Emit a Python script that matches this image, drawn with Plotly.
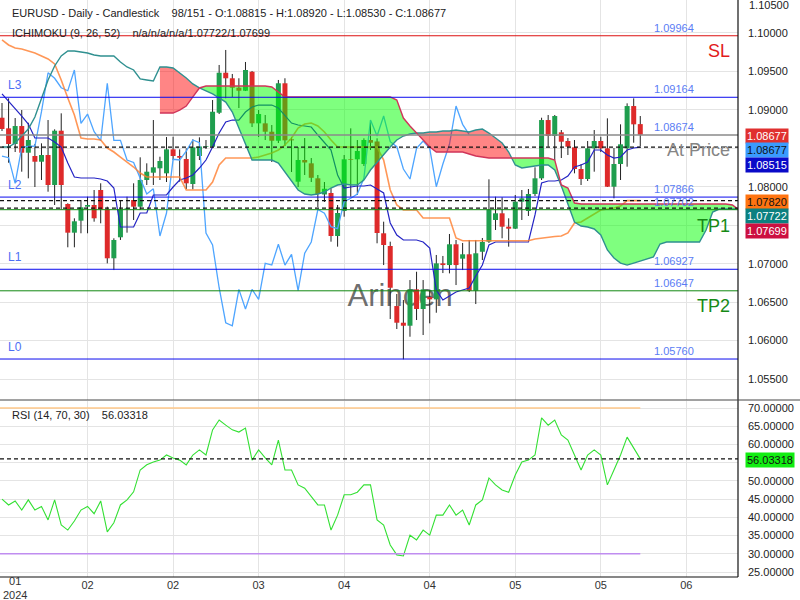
import plotly.graph_objects as go

# ---------------- data ----------------
x_label_bars = [13, 26, 39, 52, 65, 78, 91, 104]
x_labels = ["02", "02", "03", "04", "04", "05", "05", "06"]

opens = [1.08898, 1.08760, 1.08556, 1.08790, 1.08443, 1.08400, 1.08326, 1.08413, 1.08023, 1.08729,
         1.07776, 1.07403, 1.07559, 1.07741, 1.07763, 1.07958, 1.07707, 1.07070, 1.07343, 1.07707,
         1.07828, 1.07741, 1.08088, 1.08183, 1.08240, 1.08175, 1.08487, 1.08400, 1.08361, 1.08036,
         1.08400, 1.08521, 1.08521, 1.08963, 1.09483, 1.09411, 1.09288, 1.09249, 1.09496, 1.08825,
         1.08825, 1.08716, 1.08599, 1.09346, 1.08617, 1.08066, 1.08348, 1.08305, 1.08110, 1.07900,
         1.07919, 1.07360, 1.07685, 1.08357, 1.08357, 1.08296, 1.08608, 1.08589, 1.07395, 1.07230,
         1.06449, 1.06232, 1.06193, 1.06666, 1.06410, 1.06566, 1.06536, 1.07004, 1.06982, 1.07252,
         1.07065, 1.07122, 1.06648, 1.07155, 1.07286, 1.07568, 1.07655, 1.07481, 1.07455, 1.07806,
         1.07685, 1.07906, 1.08110, 1.08868, 1.08660, 1.08708, 1.08595, 1.08513, 1.08231, 1.08101,
         1.08500, 1.08595, 1.08500, 1.08001, 1.08296, 1.08500, 1.09050, 1.08815]
highs = [1.09089, 1.09150, 1.08894, 1.08998, 1.08833, 1.08556, 1.08565, 1.08868, 1.08747, 1.08955,
         1.07785, 1.07590, 1.07828, 1.07871, 1.07958, 1.08045, 1.07741, 1.07330, 1.07828, 1.07871,
         1.08045, 1.08383, 1.08305, 1.08868, 1.08391, 1.08647, 1.08651, 1.08487, 1.08500, 1.08617,
         1.08643, 1.08608, 1.09128, 1.09584, 1.09779, 1.09467, 1.09411, 1.09623, 1.09506, 1.08998,
         1.08933, 1.08803, 1.09389, 1.09411, 1.08647, 1.08517, 1.08634, 1.08374, 1.08153, 1.08062,
         1.07980, 1.07763, 1.08413, 1.08760, 1.08608, 1.08630, 1.08868, 1.08630, 1.07546, 1.07286,
         1.06605, 1.06527, 1.06787, 1.06895, 1.06787, 1.06657, 1.07113, 1.07100, 1.07386, 1.07308,
         1.07269, 1.07308, 1.07308, 1.07334, 1.08097, 1.07871, 1.07863, 1.07590, 1.07893, 1.07958,
         1.07971, 1.08253, 1.08898, 1.08933, 1.08933, 1.08738, 1.08634, 1.08608, 1.08296, 1.08595,
         1.08738, 1.08651, 1.08890, 1.08504, 1.08812, 1.09085, 1.09150, 1.08920]
lows = [1.08725, 1.08313, 1.08452, 1.08196, 1.08110, 1.07997, 1.08088, 1.07936, 1.07763, 1.07707,
        1.07213, 1.07213, 1.07395, 1.07395, 1.07546, 1.07525, 1.07004, 1.06917, 1.07308, 1.07403,
        1.07568, 1.07698, 1.08023, 1.08023, 1.08088, 1.08062, 1.08348, 1.08066, 1.07971, 1.07967,
        1.08348, 1.08491, 1.08504, 1.08946, 1.09150, 1.09167, 1.09024, 1.09245, 1.08777, 1.08647,
        1.08608, 1.08322, 1.08569, 1.08530, 1.08192, 1.07997, 1.08153, 1.08062, 1.07737, 1.07802,
        1.07286, 1.07221, 1.07611, 1.07871, 1.07893, 1.08270, 1.08478, 1.07265, 1.06982, 1.06280,
        1.06150, 1.05756, 1.06050, 1.06267, 1.06072, 1.06224, 1.06362, 1.06878, 1.06874, 1.06722,
        1.06917, 1.06631, 1.06475, 1.07047, 1.07269, 1.07438, 1.07330, 1.07221, 1.07451, 1.07568,
        1.07620, 1.07880, 1.08088, 1.08521, 1.08348, 1.08374, 1.08413, 1.08175, 1.08023, 1.08075,
        1.08196, 1.08452, 1.07997, 1.07850, 1.08088, 1.08261, 1.08573, 1.08530]
closes = [1.08751, 1.08556, 1.08790, 1.08443, 1.08608, 1.08326, 1.08413, 1.08023, 1.08729, 1.08023,
          1.07403, 1.07551, 1.07733, 1.07763, 1.07590, 1.07707, 1.07070, 1.07308, 1.07707, 1.07720,
          1.07741, 1.08088, 1.08196, 1.08253, 1.08335, 1.08487, 1.08400, 1.08378, 1.08045, 1.08513,
          1.08524, 1.08530, 1.08976, 1.09483, 1.09411, 1.09288, 1.09249, 1.09519, 1.08825, 1.08946,
          1.08716, 1.08599, 1.09346, 1.08604, 1.08604, 1.08348, 1.08316, 1.08117, 1.07906, 1.07974,
          1.07360, 1.07659, 1.08357, 1.08348, 1.08465, 1.08608, 1.08573, 1.07399, 1.07243, 1.06687,
          1.06232, 1.06193, 1.06666, 1.06410, 1.06666, 1.06536, 1.07004, 1.06982, 1.07252, 1.06982,
          1.07122, 1.06648, 1.07135, 1.07282, 1.07704, 1.07655, 1.07481, 1.07455, 1.07806, 1.07850,
          1.07906, 1.08110, 1.08868, 1.08660, 1.08920, 1.08586, 1.08521, 1.08231, 1.08101, 1.08500,
          1.08595, 1.08500, 1.08001, 1.08296, 1.08552, 1.09050, 1.08812, 1.08677]

tenkan = [1.09207, 1.09115, 1.09024, 1.08920, 1.08816, 1.08634, 1.08634, 1.08634, 1.08582, 1.08517,
          1.08309, 1.08127, 1.08114, 1.08114, 1.08114, 1.08101, 1.08075, 1.07984, 1.07477, 1.07477,
          1.07477, 1.07659, 1.07659, 1.07893, 1.07893, 1.07893, 1.07997, 1.08088, 1.08114, 1.08153,
          1.08244, 1.08348, 1.08517, 1.08699, 1.08842, 1.08868, 1.08868, 1.08972, 1.09037, 1.09063,
          1.09063, 1.09063, 1.09024, 1.08933, 1.08829, 1.08803, 1.08790, 1.08777, 1.08673, 1.08582,
          1.08478, 1.08153, 1.07984, 1.07997, 1.08010, 1.08010, 1.08023, 1.07971, 1.07919, 1.07529,
          1.07373, 1.07308, 1.07308, 1.07308, 1.07282, 1.07203, 1.06657, 1.06527, 1.06579, 1.06631,
          1.06657, 1.06684, 1.06839, 1.06982, 1.07243, 1.07282, 1.07282, 1.07282, 1.07282, 1.07282,
          1.07282, 1.07633, 1.08049, 1.08075, 1.08075, 1.08088, 1.08140, 1.08257, 1.08283, 1.08322,
          1.08478, 1.08478, 1.08413, 1.08374, 1.08387, 1.08478, 1.08504, 1.08515]
kijun = [1.09909, 1.09844, 1.09805, 1.09792, 1.09766, 1.09740, 1.09701, 1.09662, 1.09597, 1.09389,
         1.09155, 1.08933, 1.08634, 1.08621, 1.08621, 1.08608, 1.08504, 1.08452, 1.08387, 1.08322,
         1.08257, 1.08179, 1.08127, 1.08127, 1.08127, 1.08127, 1.08127, 1.08127, 1.07958, 1.07958,
         1.07958, 1.07958, 1.08062, 1.08283, 1.08374, 1.08374, 1.08374, 1.08374, 1.08374, 1.08387,
         1.08413, 1.08439, 1.08478, 1.08543, 1.08634, 1.08764, 1.08816, 1.08829, 1.08790, 1.08712,
         1.08608, 1.08517, 1.08517, 1.08517, 1.08517, 1.08517, 1.08517, 1.08517, 1.08348, 1.07958,
         1.07763, 1.07698, 1.07698, 1.07698, 1.07594, 1.07594, 1.07594, 1.07594, 1.07594, 1.07334,
         1.07299, 1.07299, 1.07299, 1.07299, 1.07299, 1.07299, 1.07299, 1.07299, 1.07299, 1.07299,
         1.07299, 1.07321, 1.07334, 1.07347, 1.07354, 1.07360, 1.07399, 1.07529, 1.07542, 1.07594,
         1.07646, 1.07698, 1.07711, 1.07724, 1.07750, 1.07820, 1.07820, 1.07820]
span_a = [1.08517, 1.08517, 1.08569, 1.08660, 1.08751, 1.08907, 1.09155, 1.09389, 1.09571, 1.09701,
          1.09766, 1.09766, 1.09753, 1.09740, 1.09714, 1.09701, 1.09701, 1.09701, 1.09623, 1.09558,
          1.09519, 1.09402, 1.09389, 1.09376, 1.09558, 1.09558, 1.09545, 1.09480, 1.09415, 1.09337,
          1.09285, 1.09246, 1.09207, 1.09155, 1.09102, 1.08972, 1.08764, 1.08543, 1.08348, 1.08348,
          1.08348, 1.08348, 1.08309, 1.08192, 1.08062, 1.07958, 1.07906, 1.07893, 1.07906, 1.07932,
          1.07984, 1.08023, 1.08036, 1.08023, 1.08023, 1.08088, 1.08218, 1.08322, 1.08413, 1.08517,
          1.08608, 1.08660, 1.08686, 1.08699, 1.08699, 1.08712, 1.08712, 1.08725, 1.08725, 1.08738,
          1.08725, 1.08712, 1.08738, 1.08751, 1.08699, 1.08634, 1.08569, 1.08452, 1.08283, 1.08244,
          1.08257, 1.08270, 1.08283, 1.08283, 1.08218, 1.08010, 1.07763, 1.07542, 1.07490, 1.07477,
          1.07451, 1.07373, 1.07178, 1.07074, 1.07008, 1.06982, 1.07008, 1.07034, 1.07061, 1.07087,
          1.07256, 1.07282, 1.07282, 1.07282, 1.07282, 1.07282, 1.07282, 1.07438, 1.07672, 1.07711,
          1.07711, 1.07711, 1.07711]
span_b_first_bar = 24
span_b = [1.08959, 1.08959, 1.08959, 1.08998, 1.09050, 1.09168, 1.09285, 1.09311, 1.09311, 1.09311,
          1.09311, 1.09311, 1.09311, 1.09311, 1.09311, 1.09311, 1.09311, 1.09298, 1.09233, 1.09168,
          1.09168, 1.09168, 1.09168, 1.09168, 1.09168, 1.09168, 1.09168, 1.09168, 1.09168, 1.09168,
          1.09168, 1.09168, 1.09168, 1.09168, 1.09168, 1.09168, 1.09128, 1.08894, 1.08790, 1.08699,
          1.08608, 1.08517, 1.08452, 1.08452, 1.08452, 1.08452, 1.08452, 1.08426, 1.08400, 1.08387,
          1.08374, 1.08374, 1.08374, 1.08374, 1.08374, 1.08374, 1.08374, 1.08374, 1.08374, 1.08374,
          1.08348, 1.08023, 1.07984, 1.07789, 1.07776, 1.07776, 1.07776, 1.07776, 1.07776, 1.07776,
          1.07776, 1.07776, 1.07776, 1.07776, 1.07776, 1.07776, 1.07776, 1.07776, 1.07776, 1.07776,
          1.07776, 1.07776, 1.07776, 1.07776, 1.07776, 1.07776, 1.07776, 1.07763, 1.07698]
chikou_shift = 26

rsi = [45.0, 43.4, 44.5, 42.0, 44.8, 42.0, 43.0, 39.3, 44.8, 37.9,
       36.5, 39.0, 42.0, 43.0, 41.0, 44.5, 36.0, 38.5, 43.4, 44.8,
       47.0, 53.0, 54.4, 55.2, 55.7, 57.1, 56.3, 55.7, 54.4, 57.1,
       58.5, 57.1, 64.0, 66.7, 65.3, 64.0, 63.4, 64.5, 55.7, 58.5,
       56.3, 54.4, 61.2, 53.0, 53.0, 48.9, 48.0, 45.6, 43.4, 43.4,
       36.5, 40.6, 46.2, 46.2, 46.9, 48.9, 48.9, 39.3, 37.9, 32.4,
       29.7, 29.4, 35.1, 33.8, 36.5, 35.1, 40.6, 40.6, 43.4, 40.6,
       42.0, 37.9, 43.4, 44.8, 50.8, 48.9, 47.5, 46.9, 51.6, 55.2,
       55.7, 57.1, 67.3, 65.3, 66.7, 62.6, 61.2, 57.1, 53.0, 57.1,
       58.5, 57.1, 48.9, 53.0, 57.1, 62.0, 59.0, 56.03318]
rsi_upper, rsi_lower, rsi_last = 70, 30, 56.03318

level_sl = 1.09964
level_l3 = 1.09164
level_gray = 1.08674
level_at_price = 1.08515
level_l2 = 1.07866
level_tp1 = 1.07702
level_l1 = 1.06927
level_tp2 = 1.06647
level_l0 = 1.05760
dashed_levels = [1.08515, 1.07820, 1.07722]

price_ticks = [1.055, 1.06, 1.065, 1.07, 1.075, 1.08, 1.085, 1.09, 1.095, 1.10]
hidden_price_ticks = [1.075, 1.085]
rsi_ticks = [25, 30, 35, 40, 45, 50, 55, 60, 65, 70]
hidden_rsi_ticks = [55]

# ---------------- geometry ----------------
PLOT_W, PLOT_H = 738, 577
X_RANGE = [-0.304, 111.85]
Y_RANGE = [1.05227, 1.10429]
RSI_RANGE = [23.63, 71.92]
MAIN_DOM = [(PLOT_H - 400) / PLOT_H, 1]
RSI_DOM = [0, (PLOT_H - 401) / PLOT_H]


def px(xp):
    return xp / PLOT_W


def py(yp):
    return (PLOT_H - yp) / PLOT_H


FONT = "Liberation Sans, Arial, sans-serif"
NARROW = "Liberation Sans Narrow, Liberation Sans, Arial"
GREEN = "#1f9e4e"
RED = "#de2a2a"

n = len(closes)
bars = list(range(n))

fig = go.Figure()

# watermark (under candles)
fig.add_trace(go.Scatter(x=[60.5], y=[1.06553], mode="text", text=["Arincen"],
                         textfont=dict(size=31, color="rgba(85,85,85,0.85)", family=FONT),
                         hoverinfo="skip", xaxis="x", yaxis="y"))

# wicks
wx, wy = [], []
for i in bars:
    wx += [i, i, None]
    wy += [lows[i], highs[i], None]
fig.add_trace(go.Scatter(x=wx, y=wy, mode="lines", line=dict(color="#222222", width=1),
                         hoverinfo="skip", xaxis="x", yaxis="y"))

# bodies
for up in (True, False):
    bx, by = [], []
    for i in bars:
        if (closes[i] >= opens[i]) == up:
            bx += [i, i, None]
            by += [opens[i], closes[i], None]
    fig.add_trace(go.Scatter(x=bx, y=by, mode="lines",
                             line=dict(color=GREEN if up else RED, width=5),
                             hoverinfo="skip", xaxis="x", yaxis="y"))

# chikou, tenkan, kijun
fig.add_trace(go.Scatter(x=bars[:n - chikou_shift], y=closes[chikou_shift:], mode="lines",
                         line=dict(color="#4ea5ff", width=1.3), hoverinfo="skip", xaxis="x", yaxis="y"))
fig.add_trace(go.Scatter(x=bars, y=tenkan, mode="lines", line=dict(color="#2323c4", width=1.2),
                         hoverinfo="skip", xaxis="x", yaxis="y"))
fig.add_trace(go.Scatter(x=bars, y=kijun, mode="lines", line=dict(color="rgba(255,125,45,0.8)", width=1.6),
                         hoverinfo="skip", xaxis="x", yaxis="y"))

# cloud
a_bars = list(range(len(span_a)))
b_bars = list(range(span_b_first_bar, span_b_first_bar + len(span_b)))
polys = []
cur = []
for k, i in enumerate(b_bars):
    a, b = span_a[i], span_b[k]
    cur.append((i, a, b))
    d = b - a
    if d == 0 and len(cur) > 1:
        polys.append(cur)
        cur = [(i, a, b)]
    if k + 1 < len(b_bars):
        a2, b2 = span_a[i + 1], span_b[k + 1]
        d2 = b2 - a2
        if d * d2 < 0:
            t = d / (d - d2)
            xc = i + t
            yc = a + t * (a2 - a)
            cur.append((xc, yc, yc))
            polys.append(cur)
            cur = [(xc, yc, yc)]
if len(cur) > 1:
    polys.append(cur)
for poly in polys:
    s = sum(p[2] - p[1] for p in poly)
    col = "rgba(0,255,0,0.5)" if s > 0 else "rgba(255,0,0,0.48)"
    xs = [p[0] for p in poly]
    fig.add_trace(go.Scatter(x=xs + xs[::-1], y=[p[1] for p in poly] + [p[2] for p in poly][::-1],
                             mode="lines", fill="toself", fillcolor=col, line=dict(width=0),
                             hoverinfo="skip", xaxis="x", yaxis="y"))
fig.add_trace(go.Scatter(x=a_bars, y=span_a, mode="lines", line=dict(color="#2f9090", width=1.4),
                         hoverinfo="skip", xaxis="x", yaxis="y"))
fig.add_trace(go.Scatter(x=b_bars, y=span_b, mode="lines", line=dict(color="#d0355a", width=1.4),
                         hoverinfo="skip", xaxis="x", yaxis="y"))

# RSI
fig.add_trace(go.Scatter(x=bars, y=rsi, mode="lines", line=dict(color="#33e033", width=1.1),
                         hoverinfo="skip", xaxis="x2", yaxis="y2"))

shapes = []


def hline(y, color, width=1, dash="solid", yref="y", x0=0, x1=1, xref="paper"):
    shapes.append(dict(type="line", xref=xref, yref=yref, x0=x0, x1=x1, y0=y, y1=y,
                       line=dict(color=color, width=width, dash=dash), layer="above"))


hline(level_sl, "#dd1111")
hline(level_l3, "#0a0aee")
hline(level_gray, "#8a8a8a", 1.5)
hline(level_l2, "#0a0aee")
hline(level_tp1, "#118811")
hline(level_l1, "#0a0aee")
hline(level_tp2, "#118811")
hline(level_l0, "#0a0aee")
for lv in dashed_levels:
    hline(lv, "#111111", 1.1, "4px,3px")
hline(rsi_upper, "#ffc98a", 1.3, yref="y2", xref="x2", x0=X_RANGE[0], x1=n - 1)
hline(rsi_lower, "#c08df0", 1.5, yref="y2", xref="x2", x0=X_RANGE[0], x1=n - 1)
hline(rsi_last, "#111111", 1.1, "4px,3px", yref="y2")
# frame lines
shapes.append(dict(type="line", xref="paper", yref="paper", x0=1, x1=1, y0=0, y1=1,
                   line=dict(color="#111", width=1.2)))
shapes.append(dict(type="line", xref="paper", yref="paper", x0=0, x1=1, y0=0, y1=0,
                   line=dict(color="#111", width=1.2)))
shapes.append(dict(type="line", xref="paper", yref="paper", x0=0, x1=800 / PLOT_W, y0=py(400), y1=py(400),
                   line=dict(color="#444", width=1)))

ann = []


def text(x, y, s, size=11, color="#222", xanchor="left", yanchor="middle", family=FONT, **kw):
    d = dict(xref="paper", yref="paper", x=x, y=y, text=s, showarrow=False, xanchor=xanchor,
             yanchor=yanchor, font=dict(size=size, color=color, family=family))
    d.update(kw)
    ann.append(d)


sp = "\u00a0\u00a0\u00a0\u00a0"
text(px(10), py(13), "EURUSD - Daily - Candlestick" + sp + "98/151 - O:1.08815 - H:1.08920 - L:1.08530 - C:1.08677")
text(px(10), py(33), "ICHIMOKU (9, 26, 52)" + sp + "n/a/n/a/n/a/1.07722/1.07699")
text(px(10), py(415), "RSI (14, 70, 30)" + sp + "56.03318")

# left level names
for name, lv in (("L3", level_l3), ("L2", level_l2), ("L1", level_l1), ("L0", level_l0)):
    ann.append(dict(xref="paper", yref="y", x=px(6), y=lv, text=name, showarrow=False, xanchor="left",
                    yanchor="bottom", yshift=3, font=dict(size=12, color="#4d6ef5", family=FONT)))
# right level values
for lv in (level_sl, level_l3, level_gray, level_l2, level_tp1, level_l1, level_tp2, level_l0):
    ann.append(dict(xref="paper", yref="y", x=px(652), y=lv, text="%.5f" % lv, showarrow=False,
                    xanchor="left", yanchor="bottom", yshift=0,
                    font=dict(size=11, color="#5a7cf5", family=FONT)))
# big labels
for s, lv, col, shift in (("SL", level_sl, "#e21b1b", -15), ("At Price", level_at_price, "#858585", -3),
                          ("TP1", level_tp1, "#168a16", -16), ("TP2", level_tp2, "#168a16", -15)):
    ann.append(dict(xref="paper", yref="y", x=px(732), y=lv, text=s, showarrow=False, xanchor="right",
                    yanchor="middle", yshift=shift, font=dict(size=18, color=col, family=FONT)))

# right side value boxes
for yp, s, bg, fc in ((136, "1.08677", "#e0302f", "#ffffff"), (150, "1.08677", "#3a9bff", "#111111"),
                      (165, "1.08515", "#0a0ac8", "#ffffff"), (202, "1.07820", "#ff7410", "#111111"),
                      (216, "1.07722", "#0b8080", "#ffffff"), (231, "1.07699", "#cc1040", "#ffffff"),
                      (460, "56.03318", "#11ee11", "#111111")):
    text(px(745), py(yp), s, color=fc, bgcolor=bg, borderpad=1)
text(px(747), py(5), "1.10500")
text(px(15), py(588), "01<br>2024", xanchor="center", size=11, color="#333", family=NARROW)

fig.update_layout(
    width=800, height=600, margin=dict(l=0, r=62, t=0, b=23),
    paper_bgcolor="white", plot_bgcolor="white", showlegend=False, hovermode=False,
    font=dict(family=FONT, size=11, color="#222"),
    xaxis=dict(domain=[0, 1], range=X_RANGE, anchor="y", tickvals=x_label_bars, showticklabels=False,
               showgrid=True, gridcolor="#e4e4e4", zeroline=False, showline=False),
    xaxis2=dict(domain=[0, 1], range=X_RANGE, anchor="y2", tickvals=x_label_bars, ticktext=x_labels,
                showgrid=True, gridcolor="#e4e4e4", zeroline=False, showline=False, ticks="",
                tickfont=dict(size=11, color="#333", family=NARROW)),
    yaxis=dict(domain=MAIN_DOM, range=Y_RANGE, anchor="x", side="right", tickvals=price_ticks,
               ticktext=["" if t in hidden_price_ticks else "%.5f" % t for t in price_ticks],
               showgrid=True, gridcolor="#e4e4e4", zeroline=False, showline=False, ticks="",
               ticklabelstandoff=9, tickfont=dict(size=11, color="#222")),
    yaxis2=dict(domain=RSI_DOM, range=RSI_RANGE, anchor="x2", side="right", tickvals=rsi_ticks,
                ticktext=["" if t in hidden_rsi_ticks else "%.5f" % t for t in rsi_ticks],
                showgrid=True, gridcolor="#e4e4e4",
                zeroline=False, showline=False, ticks="", ticklabelstandoff=9,
                tickfont=dict(size=11, color="#222")),
    shapes=shapes, annotations=ann,
)

fig.write_html("out.html")
